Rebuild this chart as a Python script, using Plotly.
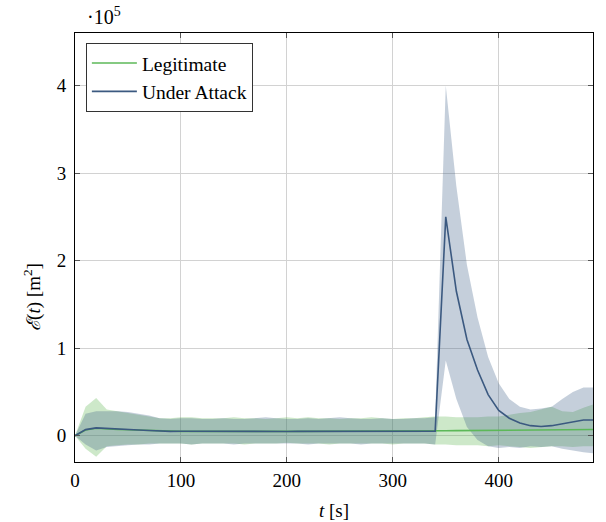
import plotly.graph_objects as go

# Time axis [s]
t = list(range(0, 500, 10))

# Values in units of 10^5 m^2
legit_mean = [0.0, 0.065, 0.085, 0.075, 0.072, 0.068, 0.063, 0.058, 0.052,
              0.051, 0.050, 0.050, 0.049, 0.050, 0.051, 0.050, 0.050, 0.049, 0.050,
              0.051, 0.050, 0.050, 0.050, 0.049, 0.050, 0.051, 0.050, 0.050, 0.049,
              0.050, 0.051, 0.052, 0.053, 0.054,
              0.055, 0.057, 0.058, 0.059, 0.060, 0.060, 0.061, 0.062, 0.062, 0.063,
              0.064, 0.065, 0.066, 0.068, 0.070, 0.072]
legit_upper = [0.0, 0.33, 0.43, 0.30, 0.28, 0.26, 0.24, 0.22, 0.20,
               0.20, 0.21, 0.21, 0.20, 0.20, 0.20, 0.21, 0.20, 0.20, 0.19,
               0.20, 0.21, 0.20, 0.21, 0.20, 0.20, 0.19, 0.20, 0.20, 0.21,
               0.20, 0.19, 0.20, 0.20, 0.21,
               0.22, 0.22, 0.21, 0.21, 0.21, 0.22, 0.22, 0.24, 0.26, 0.27,
               0.30, 0.33, 0.28, 0.27, 0.32, 0.36]
legit_lower = [0.0, -0.15, -0.24, -0.12, -0.11, -0.10, -0.10, -0.09, -0.09,
               -0.09, -0.09, -0.10, -0.09, -0.09, -0.09, -0.09, -0.10, -0.09, -0.09,
               -0.09, -0.08, -0.09, -0.09, -0.09, -0.10, -0.09, -0.09, -0.09, -0.09,
               -0.09, -0.10, -0.09, -0.09, -0.09,
               -0.10, -0.10, -0.11, -0.11, -0.11, -0.12, -0.11, -0.12, -0.13, -0.14,
               -0.13, -0.12, -0.12, -0.13, -0.12, -0.12]

attack_mean = [0.0, 0.07, 0.09, 0.082, 0.080, 0.072, 0.066, 0.060, 0.052,
               0.050, 0.051, 0.050, 0.049, 0.049, 0.050, 0.050, 0.051, 0.050, 0.050,
               0.049, 0.049, 0.050, 0.050, 0.050, 0.051, 0.050, 0.049, 0.049, 0.050,
               0.050, 0.050, 0.051, 0.050, 0.050,
               0.052, 2.50, 1.65, 1.10, 0.75, 0.47, 0.29, 0.20, 0.145, 0.115,
               0.105, 0.115, 0.135, 0.16, 0.18, 0.18]
attack_upper = [0.0, 0.25, 0.28, 0.28, 0.28, 0.27, 0.25, 0.23, 0.20,
                0.19, 0.20, 0.20, 0.19, 0.19, 0.20, 0.19, 0.19, 0.20, 0.21,
                0.20, 0.19, 0.19, 0.20, 0.19, 0.20, 0.21, 0.20, 0.19, 0.19,
                0.20, 0.19, 0.19, 0.20, 0.20,
                0.21, 4.00, 2.85, 1.95, 1.35, 0.90, 0.60, 0.42, 0.33, 0.30,
                0.31, 0.33, 0.42, 0.50, 0.55, 0.55]
attack_lower = [0.0, -0.10, -0.17, -0.13, -0.12, -0.11, -0.10, -0.10, -0.09,
                -0.09, -0.09, -0.10, -0.09, -0.09, -0.09, -0.10, -0.09, -0.09, -0.09,
                -0.09, -0.09, -0.09, -0.10, -0.09, -0.09, -0.09, -0.09, -0.10, -0.09,
                -0.09, -0.09, -0.09, -0.09, -0.09,
                -0.10, 0.86, 0.42, 0.10, -0.05, -0.12, -0.14, -0.13, -0.14, -0.12,
                -0.13, -0.12, -0.15, -0.17, -0.19, -0.20]

y_ticks = [0, 1, 2, 3, 4]
x_ticks = [0, 100, 200, 300, 400]

GREEN = "rgb(92,184,88)"
GREEN_FILL = "rgba(88,178,76,0.3)"
BLUE = "rgb(59,89,128)"
BLUE_FILL = "rgba(62,95,135,0.3)"
FONT = "Liberation Serif"

fig = go.Figure()


def band(x, lo, hi, color):
    return go.Scatter(x=list(x) + list(x)[::-1], y=list(hi) + list(lo)[::-1],
                      fill="toself", fillcolor=color, line=dict(width=0),
                      mode="lines", showlegend=False, hoverinfo="skip")


fig.add_trace(band(t, legit_lower, legit_upper, GREEN_FILL))
fig.add_trace(band(t, attack_lower, attack_upper, BLUE_FILL))
fig.add_trace(go.Scatter(x=t, y=legit_mean, mode="lines", name="Legitimate",
                         line=dict(color=GREEN, width=1.6)))
fig.add_trace(go.Scatter(x=t, y=attack_mean, mode="lines", name="Under Attack",
                         line=dict(color=BLUE, width=1.6)))

axis_common = dict(showgrid=True, gridcolor="#d2d2d2", gridwidth=1,
                   zeroline=False, showline=True, linecolor="black", linewidth=1,
                   mirror="ticks", ticks="inside", ticklen=5, tickcolor="#555",
                   automargin=False,
                   tickfont=dict(family=FONT, size=19, color="black"))

fig.update_xaxes(range=[0, 489], tickvals=x_ticks, ticklabelstandoff=1,
                 title=dict(text="<i>t</i> [s]", font=dict(family=FONT, size=19),
                            standoff=13),
                 **axis_common)
fig.update_yaxes(range=[-0.3, 4.6], tickvals=y_ticks, ticklabelstandoff=4,
                 **axis_common)

# y-axis label, placed as a rotated annotation
fig.add_annotation(text="<i>ℰ</i>(<i>t</i>) [m<sup>2</sup>]",
                   xref="paper", yref="paper", x=-0.081, y=0.385,
                   xanchor="center", yanchor="middle", textangle=-90,
                   showarrow=False, font=dict(family=FONT, size=19, color="black"))

fig.add_annotation(text="·10<sup>5</sup>", xref="paper", yref="paper",
                   x=0.0, y=1.0, xanchor="left", yanchor="bottom", yshift=3,
                   xshift=10, showarrow=False,
                   font=dict(family=FONT, size=20, color="black"))

fig.update_layout(
    width=606, height=522,
    margin=dict(l=75, r=13, t=33, b=60),
    paper_bgcolor="white", plot_bgcolor="white",
    font=dict(family=FONT, size=19, color="black"),
    legend=dict(x=0.021, y=0.977, xanchor="left", yanchor="top",
                bgcolor="white", bordercolor="#333", borderwidth=1,
                itemwidth=45,
                font=dict(family=FONT, size=19.5), tracegroupgap=0),
    showlegend=True,
)

fig.write_html("out.html")
